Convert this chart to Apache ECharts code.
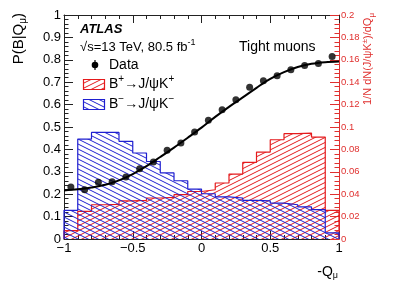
<!DOCTYPE html>
<html>
<head>
<meta charset="utf-8">
<script src="https://cdn.jsdelivr.net/npm/echarts@6/dist/echarts.min.js"></script>
<style>html,body{margin:0;padding:0;background:#fff}#c{width:399px;height:286px}</style>
</head>
<body>
<div id="c"></div>
<script>
// ---- data ----
const binEdges = [-1,-0.9,-0.8,-0.7,-0.6,-0.5,-0.4,-0.3,-0.2,-0.1,0,0.1,0.2,0.3,0.4,0.5,0.6,0.7,0.8,0.9,1];
const bMinusFrac = [0.0256,0.0892,0.0952,0.0952,0.0872,0.0768,0.0692,0.059,0.052,0.0446,0.0404,0.0376,0.0366,0.0344,0.034,0.032,0.0306,0.0286,0.0262,0.0054];
const bPlusFrac  = [0.0074,0.0246,0.0306,0.031,0.034,0.0344,0.0366,0.0372,0.0396,0.0424,0.044,0.05,0.058,0.0684,0.0776,0.0886,0.094,0.0946,0.091,0.0256];
const qCenters = [-0.95,-0.85,-0.75,-0.65,-0.55,-0.45,-0.35,-0.25,-0.15,-0.05,0.05,0.15,0.25,0.35,0.45,0.55,0.65,0.75,0.85,0.95];
const pData = [0.232,0.220,0.253,0.256,0.277,0.314,0.344,0.396,0.429,0.478,0.53,0.577,0.622,0.677,0.707,0.729,0.756,0.774,0.783,0.815];
const fitX = [-1,-0.9,-0.8,-0.7,-0.6,-0.5,-0.4,-0.3,-0.2,-0.1,0,0.1,0.2,0.3,0.4,0.5,0.6,0.7,0.8,0.9,1];
const fitY = [0.217,0.222,0.230,0.242,0.262,0.29,0.325,0.366,0.408,0.452,0.497,0.545,0.59,0.632,0.675,0.715,0.745,0.768,0.782,0.789,0.792];

const RED = '#e41a1c', BLUE = '#1f1fd0', AXR = '#e0302f';
const FONT = 'Liberation Sans, Arial, Helvetica, sans-serif';

function hatch(color, up) {
  const c = document.createElement('canvas');
  c.width = 10; c.height = 5;
  const g = c.getContext('2d');
  g.strokeStyle = color; g.lineWidth = 1;
  g.beginPath();
  for (let k = -1; k <= 1; k++) {
    if (up) { g.moveTo(-2, 5 + 1 + k*5); g.lineTo(12, -1 + k*5); }
    else { g.moveTo(-2, -1 + k*5); g.lineTo(12, 5 + 1 + k*5); }
  }
  g.stroke();
  return { image: c, repeat: 'repeat' };
}
const redPat = hatch(RED, true);
const bluePat = hatch(BLUE, false);

function histPoly(vals) {
  const pts = [[binEdges[0], 0]];
  for (let i = 0; i < vals.length; i++) {
    pts.push([binEdges[i], vals[i]]);
    pts.push([binEdges[i+1], vals[i]]);
  }
  pts.push([binEdges[binEdges.length-1], 0]);
  return pts;
}

const chart = echarts.init(document.getElementById('c'), null, {renderer: 'canvas'});
const xCommon = {
  type: 'value', min: -1, max: 1, interval: 0.5,
  axisLine: {show: true, onZero: false, lineStyle: {color: '#222', width: 1}},
  axisTick: {show: true, inside: true, length: 8, lineStyle: {color: '#222'}},
  minorTick: {show: true, splitNumber: 5, length: 4, lineStyle: {color: '#222'}},
  splitLine: {show: false}, minorSplitLine: {show: false}
};
chart.setOption({
  animation: false,
  backgroundColor: '#fff',
  textStyle: {fontFamily: FONT},
  grid: {left: 64, top: 15, width: 275, height: 224, containLabel: false},
  xAxis: [
    Object.assign({}, xCommon, {position: 'bottom',
      axisLabel: {show: true, margin: 3, fontSize: 13, color: '#000', fontFamily: FONT,
        formatter: v => v < 0 ? '\u2212' + (-v) : String(v)}}),
    Object.assign({}, xCommon, {position: 'top', axisLabel: {show: false}})
  ],
  yAxis: [
    {type: 'value', position: 'left', min: 0, max: 1, interval: 0.1,
     axisLine: {show: true, onZero: false, lineStyle: {color: '#222'}},
     axisTick: {show: true, inside: true, length: 9, lineStyle: {color: '#222'}},
     minorTick: {show: true, splitNumber: 5, length: 4.5, lineStyle: {color: '#222'}},
     splitLine: {show: false},
     axisLabel: {margin: 3, fontSize: 13, color: '#000', fontFamily: FONT,
       formatter: v => String(+v.toFixed(1))}},
    {type: 'value', position: 'right', min: 0, max: 0.2, interval: 0.02,
     axisLine: {show: true, onZero: false, lineStyle: {color: AXR}},
     axisTick: {show: true, inside: true, length: 9, lineStyle: {color: AXR}},
     minorTick: {show: true, splitNumber: 5, length: 4.5, lineStyle: {color: AXR}},
     splitLine: {show: false},
     axisLabel: {margin: 2, fontSize: 9.5, color: AXR, fontFamily: FONT,
       formatter: v => String(+v.toFixed(2))}}
  ],
  series: [
    {type: 'line', xAxisIndex: 0, yAxisIndex: 1, data: histPoly(bPlusFrac), showSymbol: false,
     lineStyle: {color: RED, width: 1.2}, areaStyle: {color: redPat, opacity: 1}, z: 2, silent: true},
    {type: 'line', xAxisIndex: 0, yAxisIndex: 1, data: histPoly(bMinusFrac), showSymbol: false,
     lineStyle: {color: BLUE, width: 1.2}, areaStyle: {color: bluePat, opacity: 1}, z: 3, silent: true},
    {type: 'line', xAxisIndex: 0, yAxisIndex: 0, data: fitX.map((x, i) => [x, fitY[i]]), showSymbol: false,
     smooth: 0.35, lineStyle: {color: '#000', width: 2}, z: 4},
    {type: 'scatter', xAxisIndex: 0, yAxisIndex: 0, data: qCenters.map((x, i) => [x, pData[i]]),
     symbol: 'circle', symbolSize: 7, itemStyle: {color: '#000'}, z: 5}
  ],
  graphic: [
    {type: 'text', left: 80, top: 23, style: {text: 'ATLAS', font: 'italic bold 13px ' + FONT, fill: '#000'}},
    {type: 'text', x: 80, y: 47, style: {
      text: '\u221As=13 TeV, 80.5 fb{s|-1}', fontSize: 13, fontFamily: FONT, fill: '#000',
      verticalAlign: 'middle', rich: {s: {fontSize: 9, fontFamily: FONT, padding: [0,0,8,0]}}}},
    {type: 'text', x: 239, y: 47, style: {text: 'Tight muons', fontSize: 14, fontFamily: FONT, fill: '#000', verticalAlign: 'middle'}},
    // legend
    {type: 'line', shape: {x1: 95, y1: 60, x2: 95, y2: 70}, style: {stroke: '#000', lineWidth: 1.2}},
    {type: 'circle', shape: {cx: 95, cy: 65, r: 3.3}, style: {fill: '#000'}},
    {type: 'text', x: 109, y: 65, style: {text: 'Data', fontSize: 14, fontFamily: FONT, fill: '#000', verticalAlign: 'middle'}},
    {type: 'rect', shape: {x: 83.5, y: 79.5, width: 21, height: 10}, style: {fill: redPat, stroke: RED, lineWidth: 1.2}},
    {type: 'text', x: 109, y: 84, style: {
      text: 'B{s|+}\u2192J/\u03C8K{s|+}', fontSize: 14, fontFamily: FONT, fill: '#000', verticalAlign: 'middle',
      rich: {s: {fontSize: 10, fontFamily: FONT, padding: [0,0,9,0]}}}},
    {type: 'rect', shape: {x: 83.5, y: 99.5, width: 21, height: 10}, style: {fill: bluePat, stroke: BLUE, lineWidth: 1.2}},
    {type: 'text', x: 109, y: 104, style: {
      text: 'B{s|\u2212}\u2192J/\u03C8K{s|\u2212}', fontSize: 14, fontFamily: FONT, fill: '#000', verticalAlign: 'middle',
      rich: {s: {fontSize: 10, fontFamily: FONT, padding: [0,0,9,0]}}}},
    // axis titles
    {type: 'text', x: 338, y: 272, style: {
      text: '-Q{u|\u03BC}', fontSize: 14, fontFamily: FONT, fill: '#000', align: 'right', verticalAlign: 'middle',
      rich: {u: {fontSize: 9, fontFamily: FONT, padding: [8,0,0,0]}}}},
    {type: 'text', x: 19, y: 13, rotation: Math.PI/2, style: {
      text: 'P(B|Q{u|\u03BC})', fontSize: 15, fontFamily: FONT, fill: '#000', align: 'right', verticalAlign: 'middle',
      rich: {u: {fontSize: 10, fontFamily: FONT, padding: [9,0,0,0]}}}},
    {type: 'text', x: 368, y: 13, rotation: Math.PI/2, style: {
      text: '1/N dN(J/\u03C8K{s|\u00B1})/dQ{u|\u03BC}', fontSize: 11, fontFamily: FONT, fill: AXR, align: 'right', verticalAlign: 'middle',
      rich: {s: {fontSize: 8, fontFamily: FONT, fill: AXR, padding: [0,0,7,0]}, u: {fontSize: 8, fontFamily: FONT, fill: AXR, padding: [7,0,0,0]}}}}
  ]
});
</script>
</body>
</html>
